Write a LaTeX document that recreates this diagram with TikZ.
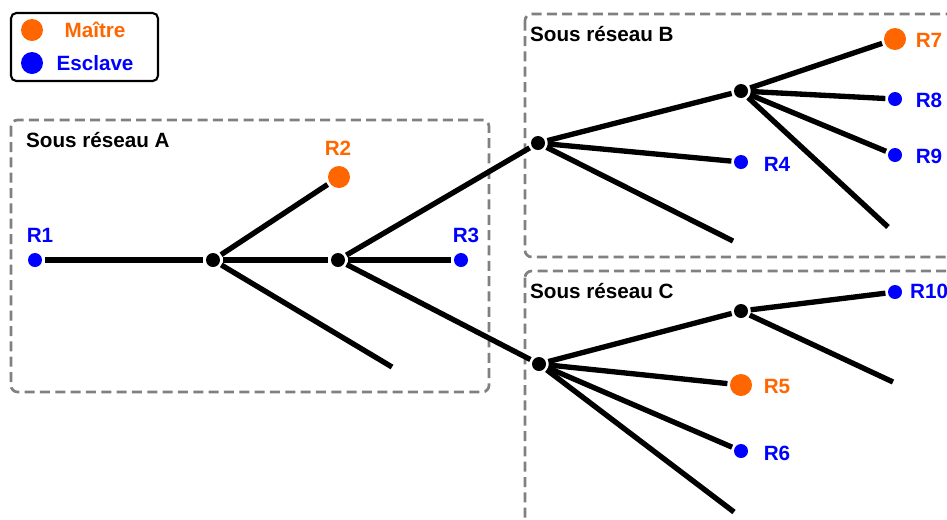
\documentclass[tikz,border=0pt]{standalone}
\usepackage{fontspec}
\setmainfont{Liberation Sans}
\definecolor{orangeM}{HTML}{FF6600}
\definecolor{bleuE}{HTML}{0000FF}
\definecolor{grisD}{HTML}{808080}

\begin{document}
\begin{tikzpicture}[x=0.75pt,y=-0.75pt,line width=4pt,
    font=\fontsize{15.5}{18}\selectfont\bfseries,
    maitre/.style={circle,fill=orangeM,inner sep=0pt,minimum size=16.5pt},
    esclave/.style={circle,fill=bleuE,inner sep=0pt,minimum size=10.5pt},
    jonction/.style={circle,fill=black,inner sep=0pt,minimum size=10.5pt},
    sousreseau/.style={draw=grisD,line width=2pt,dash pattern=on 7.5pt off 4pt,rounded corners=5pt}]
    \useasboundingbox (0,0) rectangle (947,519);

    % cadres des sous-reseaux
    \draw[sousreseau] (11,120) rectangle (489,392);
    \draw[sousreseau] (525,14) rectangle (965,257);
    \draw[sousreseau] (525,271) rectangle (965,540);
    \node[anchor=west] (titreA) at (19,140) {Sous réseau A};
    \node[anchor=west] (titreB) at (523,34) {Sous réseau B};
    \node[anchor=west] (titreC) at (523,291) {Sous réseau C};

    % legende
    \draw[line width=1.6pt,rounded corners=4pt] (11,13) rectangle (158,81);
    \node[maitre] (legM) at (32,30) {};
    \node[maitre,fill=bleuE] (legE) at (32,63) {};
    \node[text=orangeM] (txtM) at (95,30) {Maître};
    \node[text=bleuE] (txtE) at (95,63) {Esclave};

    % noeuds
    \foreach \n/\x/\y in {j1/213/260,j2/338/260,jb/538/143,jb2/741/91,jc/539/364,jc2/741/311}
        \node[jonction] (\n) at (\x,\y) {};
    \foreach \n/\x/\y in {r1/35/260,r3/461/260,r4/741/162,r8/895/99,r9/895/155,r10/895/292,r6/741/451}
        \node[esclave] (\n) at (\x,\y) {};
    \foreach \n/\x/\y in {r2/339/177,r7/895/39,r5/741/385}
        \node[maitre] (\n) at (\x,\y) {};
    \foreach \n/\x/\y in {fa/392/367,fb/733/241,fb2/888/227,fc/734/512,fc2/893/382}
        \coordinate (\n) at (\x,\y);

    % liaisons
    \foreach \a/\b in {r1/j1,j1/j2,j2/r3,j1/r2,j1/fa,j2/jb,j2/jc,
                       jb/jb2,jb/r4,jb/fb,jb2/r7,jb2/r8,jb2/r9,jb2/fb2,
                       jc/jc2,jc/r5,jc/r6,jc/fc,jc2/r10,jc2/fc2}
        \draw (\a) -- (\b);

    % etiquettes
    \foreach \n/\x/\y/\c in {R1/40/235/bleuE,R2/338/148/orangeM,R3/466/235/bleuE,
                             R4/777/164/bleuE,R7/929/40/orangeM,R8/929/100/bleuE,
                             R9/929/156/bleuE,R5/777/386/orangeM,R6/777/453/bleuE}
        \node[text=\c] (l\n) at (\x,\y) {\n};
    \node[text=bleuE,anchor=west] (lR10) at (903,291) {R10};
\end{tikzpicture}
\end{document}
